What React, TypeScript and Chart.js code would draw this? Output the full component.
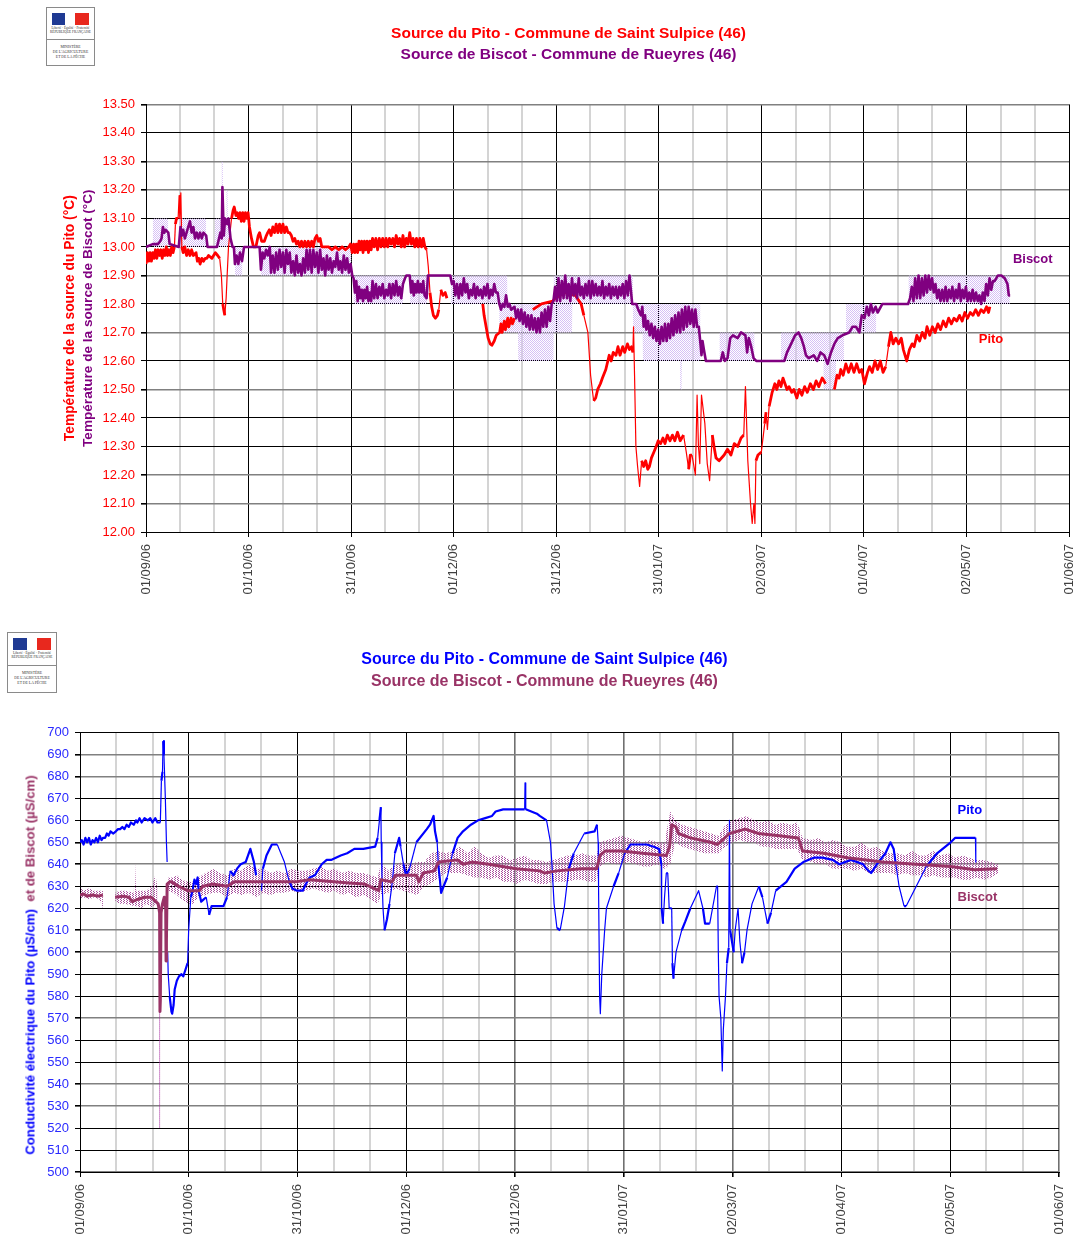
import React, { useEffect, useRef } from "react";
import { Chart, registerables } from "chart.js";
Chart.register(...registerables);

type P = [number, number];
type B = [number, number | null, number | null];

const xTickLabels = ["01/09/06", "01/10/06", "31/10/06", "01/12/06", "31/12/06", "31/01/07", "02/03/07", "01/04/07", "02/05/07", "01/06/07"];

const titlePito1 = "Source du Pito - Commune de Saint Sulpice (46)";
const titleBiscot1 = "Source de Biscot - Commune de Rueyres (46)";
const yTitlePito1 = "Température de la source du Pito (°C)";
const yTitleBiscot1 = "Température de la source de Biscot (°C)";
const yTitlePito2 = "Conductivité électrique du Pito (µS/cm)";
const yTitleBiscot2 = "et de Biscot (µS/cm)";

// Temperature, Pito: [day since 01/09/06, °C]
const pitoTemp: P[] = [
  [0, 12.94], [.4, 12.98], [.8, 12.95], [1.2, 12.98], [1.6, 12.95], [2, 12.98], [2.4, 12.96], [2.8, 12.99], [3.2, 12.96], [3.6, 12.99], [4, 12.97], [4.4, 12.99], [4.8, 12.96], [5.2, 12.99], [5.6, 12.97], [6, 13], [6.4, 12.97], [6.8, 12.99], [7.2, 12.97], [7.6, 13], [8, 12.98], [8.4, 13],
  [8.7, 13.08], [9, 13.1], [9.5, 13.1], [9.8, 13.18], [10, 13.1], [10.3, 13.19], [10.6, 13], [11, 12.98], [11.5, 13], [12, 12.97], [12.5, 12.99], [13, 12.97], [13.5, 12.99], [14, 12.97], [14.8, 12.98], [15.2, 12.95], [15.6, 12.96], [16, 12.94], [16.5, 12.96], [17, 12.95], [17.5, 12.96], [18, 12.96], [18.5, 12.97], [19.5, 12.96], [20.5, 12.98], [21.2, 12.97],
  [21.8, 12.96], [22.3, 12.9], [22.7, 12.8], [23.3, 12.76], [23.7, 12.82], [24, 12.9], [24.4, 13], [25.3, 13.1], [25.8, 13.13], [26.1, 13.14], [26.6, 13.11], [27, 13.12], [27.4, 13.1], [27.8, 13.12], [28.2, 13.09], [28.6, 13.12], [29, 13.09], [29.4, 13.12], [29.8, 13.1], [30.2, 13.12], [30.6, 13.07], [31.2, 13.03], [31.8, 13], [32.5, 13], [33.2, 13.04], [33.6, 13.05], [34.2, 13.02], [35, 13.02], [35.6, 13.04], [36, 13.05], [36.5, 13.06], [37, 13.04], [37.5, 13.07], [38, 13.05], [38.5, 13.08], [39, 13.05], [39.5, 13.08], [40, 13.05], [40.5, 13.08], [41, 13.05], [41.5, 13.07], [42, 13.05], [42.5, 13.05], [43, 13.04], [43.5, 13.02], [44, 13.03], [44.5, 13.01], [45, 13.02], [45.5, 13], [46, 13.02], [46.5, 13], [47, 13.02], [47.5, 13], [48, 13.02], [48.5, 13], [49, 13.02], [49.5, 13], [50, 13.03], [50.5, 13.04], [51, 13.02], [51.5, 13.03], [52, 13], [53, 13], [54, 13], [55, 12.99], [56, 13], [57, 12.99], [58, 13], [59, 12.99], [60, 13], [60.5, 13.01],
  [61, 12.98], [61.4, 13.01], [61.8, 12.98], [62.2, 13.01], [62.6, 12.98], [63, 13.02], [63.4, 12.99], [63.8, 13.02], [64.2, 12.98], [64.6, 13.02], [65, 12.99], [65.4, 13.02], [65.8, 12.98], [66.2, 13.02], [66.6, 12.99], [67, 13.03], [67.5, 13], [68, 13.03], [68.5, 12.99], [69, 13.03], [69.5, 13], [70, 13.03], [70.5, 13], [71, 13.03], [71.5, 13], [72, 13.03], [72.5, 13.01], [73, 13.03], [73.5, 13], [74, 13.04], [74.5, 13.01], [75, 13.03], [75.5, 13], [76, 13.04], [76.5, 13], [77, 13.03], [77.5, 13.01], [78, 13.05], [78.5, 13.01], [79, 13.03], [79.5, 13], [80, 13.03], [80.5, 13], [81, 13.03], [81.5, 13], [82, 13.03], [82.5, 13],
  [83, 12.99], [83.5, 12.93], [84, 12.84], [84.5, 12.79], [85, 12.76], [85.6, 12.75], [86.2, 12.76], [86.6, 12.78], [87.2, 12.85], [87.8, 12.83], [88.5, 12.84], [89, 12.82], [89.1, null as any], [99.4, null as any], [99.6, 12.8], [100, 12.76], [100.6, 12.72], [101.2, 12.68], [101.8, 12.66], [102.3, 12.655], [103, 12.67], [103.6, 12.69], [104.6, 12.7], [105, 12.73], [105.3, 12.7], [106, 12.74], [106.3, 12.71], [107, 12.75], [107.3, 12.72], [108, 12.75], [108.4, 12.73], [109, 12.75], [109.1, null as any], [114.3, null as any], [114.4, 12.78], [117, 12.8], [120.3, 12.81], [121, 12.82], [124, 12.84], [127, 12.83],
  [128.7, 12.8], [129.5, 12.76], [130.7, 12.7], [131.5, 12.55], [132.4, 12.46], [133, 12.47], [133.6, 12.5], [134.4, 12.52], [135, 12.54], [136, 12.57], [137, 12.62], [137.6, 12.6], [138.2, 12.63], [139, 12.62], [139.6, 12.65], [140.2, 12.62], [141, 12.65], [141.6, 12.63], [142.4, 12.66], [143, 12.64], [143.6, 12.65], [144, 12.63], [144.2, 12.72], [144.5, 12.55], [144.9, 12.3], [145.4, 12.23], [146, 12.16], [146.6, 12.25], [147.2, 12.23], [147.8, 12.25], [148.4, 12.22], [148.9, 12.23], [149.5, 12.26], [150.2, 12.28], [150.9, 12.3], [151.5, 12.32], [152.2, 12.31], [152.9, 12.33], [153.5, 12.31], [154.2, 12.34], [155, 12.32], [155.7, 12.34], [156.4, 12.32], [157.2, 12.35], [158, 12.32], [159, 12.34], [159.8, 12.28], [160.5, 12.22], [161, 12.27], [161.5, 12.27], [162.5, 12.2], [163, 12.48], [163.4, 12.3], [163.8, 12.24], [164.3, 12.48], [165.3, 12.38], [166, 12.24], [166.7, 12.18], [167.5, 12.34], [168, 12.3], [168.6, 12.26], [169.5, 12.25], [171, 12.27], [172, 12.29], [173, 12.27], [174, 12.31], [175, 12.3], [176, 12.33], [176.8, 12.34], [177.3, 12.51], [178, 12.25], [178.8, 12.1], [179.3, 12.03], [179.8, 12.1], [180.1, 12.03], [180.4, 12.25], [181, 12.27], [182, 12.28], [183, 12.38], [183.4, 12.42], [183.8, 12.36], [184.3, 12.44], [185.2, 12.49], [186, 12.52], [186.6, 12.5], [187.2, 12.53], [187.8, 12.51], [188.4, 12.54], [189, 12.52], [189.6, 12.5], [190.2, 12.51], [191, 12.49], [191.6, 12.5], [192.5, 12.47], [193.2, 12.5], [194, 12.48], [194.8, 12.51], [195.6, 12.49], [196.5, 12.52], [197.4, 12.5], [198.2, 12.53], [199, 12.51], [200, 12.54], [201, 12.52], [201.1, null as any], [203, null as any], [203.6, 12.5], [204.4, 12.55], [205, 12.54], [205.5, 12.57], [206.2, 12.55], [207, 12.59], [207.8, 12.56], [208.6, 12.59], [209.4, 12.56], [210.2, 12.59], [211, 12.56], [211.7, 12.57], [212.5, 12.52], [213.4, 12.56], [214, 12.58], [214.8, 12.56], [215.6, 12.6], [216.4, 12.57], [217.2, 12.6], [218, 12.56], [218.8, 12.58], [219.6, 12.65], [220.3, 12.7], [221, 12.66], [221.8, 12.68], [222.6, 12.66], [223.4, 12.68], [224, 12.64], [225, 12.6], [225.8, 12.64], [226.6, 12.66], [227.2, 12.65], [228, 12.69], [228.8, 12.67], [229.6, 12.7], [230.4, 12.68], [231, 12.72], [231.8, 12.69], [232.6, 12.72], [233.4, 12.7], [234.2, 12.73], [235, 12.71], [235.8, 12.74], [236.6, 12.72], [237.4, 12.75], [238.2, 12.73], [239, 12.75], [239.8, 12.74], [240.6, 12.76], [241.4, 12.74], [242.2, 12.77], [243, 12.75], [243.8, 12.77], [244.6, 12.76], [245.4, 12.78], [246.2, 12.76], [247, 12.78], [247.8, 12.77], [248.6, 12.79], [249.2, 12.77], [249.6, 12.79],
];

// Temperature, Biscot, smoothed line
const biscotTemp: P[] = [
  [0, 13], [2, 13.01], [3.5, 13.01], [4.2, 13.02], [4.6, 13.03], [5, 13.07], [5.4, 13.05], [5.8, 13.06], [6.6, 13.05], [7, 13.01], [9.7, 13], [10.2, 13.07], [10.6, 13.04], [11, 13.06], [11.5, 13.03], [12, 13.05], [12.5, 13.07], [13, 13.09], [13.5, 13.05], [14, 13.07], [14.5, 13.03], [15, 13.05], [15.5, 13.03], [16, 13.05], [16.5, 13.03], [17, 13.05], [17.8, 13.04], [18.2, 13], [21, 13], [21.6, 13.03], [22, 13.05], [22.4, 13.03], [22.6, 13.21], [23, 13.04], [23.4, 13.1], [24, 13.08], [24.4, 13.1], [25, 13.03], [25.6, 13], [26, 13], [26.3, 12.94], [26.8, 12.97], [27.3, 12.94], [27.8, 12.98], [28.4, 12.95], [29, 13], [33.6, 13],
  [34, 12.92], [34.5, 12.98], [35, 12.96], [35.5, 12.99], [36, 12.97], [36.6, 13], [37, 12.91], [37.5, 12.97], [38, 12.91], [38.5, 12.98], [39, 12.92], [39.5, 12.99], [40, 12.93], [40.5, 12.98], [41, 12.91], [41.5, 12.99], [42, 12.94], [42.5, 12.98], [43, 12.91], [43.5, 12.95], [44, 12.9], [44.5, 12.97], [45, 12.91], [45.5, 12.94], [46, 12.9], [46.5, 12.96], [47, 12.91], [47.5, 12.99], [48, 12.92], [48.5, 12.99], [49, 12.91], [49.5, 12.99], [50, 12.93], [50.5, 12.98], [51, 12.91], [51.5, 12.99], [52, 12.92], [52.5, 12.96], [53, 12.9], [53.5, 12.97], [54, 12.92], [54.5, 12.96], [55, 12.91], [55.5, 12.95], [56, 12.93], [56.5, 12.98], [57, 12.92], [57.5, 12.95], [58, 12.91], [58.5, 12.97], [59, 12.92], [59.5, 12.96], [60, 12.91], [60.5, 12.94], [61, 12.9], [61.4, 12.89], [61.8, 12.84], [62.2, 12.88], [62.6, 12.81], [63, 12.86], [63.4, 12.82], [63.8, 12.85], [64.2, 12.81], [64.6, 12.85], [65, 12.82], [65.4, 12.86], [65.8, 12.81], [66.2, 12.84], [66.6, 12.81], [67, 12.88], [67.5, 12.82], [68, 12.87], [68.5, 12.82], [69, 12.86], [69.5, 12.83], [70, 12.87], [70.5, 12.82], [71, 12.85], [71.5, 12.83], [72, 12.87], [72.5, 12.82], [73, 12.87], [73.5, 12.83], [74, 12.88], [74.5, 12.83], [75, 12.86], [75.5, 12.82], [76, 12.87], [76.6, 12.89], [77, 12.9], [78, 12.9], [78.4, 12.84], [78.8, 12.88], [79.2, 12.83], [79.6, 12.87], [80, 12.84], [80.4, 12.88], [80.8, 12.84], [81.2, 12.87], [81.6, 12.84], [82, 12.88], [82.4, 12.83], [83, 12.82], [83.4, 12.9], [90, 12.9], [90.5, 12.87], [91, 12.88], [91.5, 12.83], [92, 12.87], [92.5, 12.82], [93, 12.87], [93.5, 12.83], [94, 12.89], [94.5, 12.84], [95, 12.87], [95.5, 12.82], [96, 12.85], [96.5, 12.83], [97, 12.87], [97.5, 12.82], [98, 12.86], [98.5, 12.83], [99, 12.85], [99.5, 12.82], [100, 12.86], [100.5, 12.83], [101, 12.87], [101.5, 12.82], [102, 12.85], [102.5, 12.83], [103, 12.87], [103.5, 12.84], [104, 12.84], [104.5, 12.8], [105, 12.78], [105.5, 12.8], [106, 12.79], [106.5, 12.83], [107, 12.79], [107.5, 12.8], [108, 12.78], [109, 12.79], [109.5, 12.75], [110, 12.78], [110.5, 12.74], [111, 12.78], [111.5, 12.73], [112, 12.77], [112.5, 12.72], [113, 12.76], [113.5, 12.71], [114, 12.76], [114.5, 12.71], [115, 12.75], [115.5, 12.7], [116, 12.75], [116.5, 12.7], [117, 12.77], [117.5, 12.72], [118, 12.78], [118.5, 12.72], [119, 12.79], [119.5, 12.74], [120, 12.8], [120.5, 12.81],
  [121, 12.86], [121.5, 12.81], [122, 12.89], [122.5, 12.81], [123, 12.88], [123.5, 12.82], [124, 12.9], [124.5, 12.82], [125, 12.87], [125.5, 12.81], [126, 12.89], [126.5, 12.83], [127, 12.87], [127.5, 12.82], [128, 12.89], [128.5, 12.83], [129, 12.86], [129.5, 12.82], [130, 12.87], [130.5, 12.83], [131, 12.88], [131.5, 12.82], [132, 12.88], [132.5, 12.83], [133, 12.87], [133.5, 12.83], [134, 12.86], [134.5, 12.83], [135, 12.88], [135.5, 12.82], [136, 12.86], [136.5, 12.83], [137, 12.87], [137.5, 12.82], [138, 12.86], [138.5, 12.83], [139, 12.86], [139.5, 12.82], [140, 12.86], [140.5, 12.83], [141, 12.87], [141.5, 12.82], [142, 12.88], [142.5, 12.83], [143, 12.9], [143.4, 12.85], [143.8, 12.8], [145, 12.8], [145.6, 12.78], [146.4, 12.76], [146.8, 12.79], [147.2, 12.72], [147.6, 12.76], [148, 12.71], [148.5, 12.74], [149, 12.69], [149.5, 12.73], [150, 12.68], [150.5, 12.72], [151, 12.67], [151.5, 12.71], [152, 12.66], [152.5, 12.72], [153, 12.67], [153.5, 12.73], [154, 12.67], [154.5, 12.73], [155, 12.68], [155.5, 12.75], [156, 12.69], [156.5, 12.76], [157, 12.7], [157.5, 12.77], [158, 12.7], [158.5, 12.78], [159, 12.71], [159.5, 12.79], [160, 12.72], [160.5, 12.79], [161, 12.73], [161.5, 12.78], [162, 12.72], [162.5, 12.78], [163, 12.72], [163.5, 12.72], [164, 12.66], [164.3, 12.62], [164.6, 12.67], [165, 12.64], [165.6, 12.6], [170, 12.6], [170.6, 12.63], [171.2, 12.6], [172, 12.61], [172.8, 12.68], [173.6, 12.69], [175, 12.68], [176, 12.7], [177.3, 12.69], [177.8, 12.63], [178.3, 12.68], [179, 12.65], [179.7, 12.61], [180.5, 12.6], [188.8, 12.6], [189.6, 12.63], [190.8, 12.66], [192, 12.69], [193, 12.7], [193.8, 12.68], [194.6, 12.65], [195.2, 12.62], [196, 12.61], [197.5, 12.62], [198.5, 12.6], [199.5, 12.63], [200.6, 12.62], [201.6, 12.59], [202.6, 12.63], [203.6, 12.66], [204.6, 12.68], [206, 12.69], [208, 12.7], [209, 12.72], [210, 12.72], [211, 12.7], [211.7, 12.76], [212.5, 12.75], [213.2, 12.79], [213.8, 12.76], [214.4, 12.8], [215, 12.77], [215.8, 12.79], [216.4, 12.77], [217.8, 12.8], [225.4, 12.8],
  [226, 12.82], [226.5, 12.86], [227, 12.81], [227.5, 12.89], [228, 12.82], [228.5, 12.9], [229, 12.82], [229.5, 12.89], [230, 12.83], [230.5, 12.9], [231, 12.84], [231.5, 12.9], [232, 12.85], [232.5, 12.89], [233, 12.84], [233.5, 12.87], [234, 12.82], [234.5, 12.85], [235, 12.81], [235.5, 12.85], [236, 12.81], [236.5, 12.86], [237, 12.81], [237.5, 12.85], [238, 12.82], [238.5, 12.86], [239, 12.81], [239.5, 12.85], [240, 12.82], [240.5, 12.87], [241, 12.81], [241.5, 12.85], [242, 12.82], [242.5, 12.86], [243, 12.81], [243.5, 12.84], [244, 12.81], [244.5, 12.85], [245, 12.81], [245.5, 12.84], [246, 12.81], [246.5, 12.83], [247, 12.8], [247.5, 12.84], [248, 12.81], [248.5, 12.87], [249, 12.83], [249.5, 12.89], [250, 12.85], [250.5, 12.88], [251, 12.88], [252, 12.9], [253, 12.9], [254, 12.89], [254.8, 12.87], [255.2, 12.83], [255.6, 12.83],
];

// Temperature, Biscot, raw readings: [day, low, high] (they jump by the 0.1 °C step of the probe)
const biscotTempRaw: B[] = [
  [2, 13, 13.1], [6.6, 13, 13.1], [6.7, null, null], [9.6, null, null], [9.7, 13, 13.1], [17.8, 13, 13.1], [17.9, null, null], [20.2, null, null], [20.3, 13, 13.1], [22.3, 13, 13.1], [22.4, 13, 13.3], [22.7, 13, 13.3], [22.8, 13, 13.1], [23.7, 13, 13.1], [23.8, 13, 13.2], [24.1, 13, 13.2], [24.2, 13, 13.1], [25, 13, 13.1], [25.1, null, null], [26.2, null, null], [26.3, 12.9, 13], [28.5, 12.9, 13], [28.6, null, null], [33.8, null, null], [33.9, 12.9, 13], [60.8, 12.9, 13], [60.9, null, null], [61.3, null, null], [61.4, 12.8, 12.9], [76, 12.8, 12.9], [76.1, null, null], [78, null, null], [78.1, 12.8, 12.9], [83.2, 12.8, 12.9], [83.3, null, null], [90, null, null], [90.1, 12.8, 12.9], [104.5, 12.8, 12.9], [104.6, 12.7, 12.9], [106.8, 12.7, 12.9], [106.9, 12.7, 12.8], [110, 12.7, 12.8], [110.1, 12.6, 12.8], [120.5, 12.6, 12.8], [120.6, 12.7, 12.9], [126, 12.7, 12.9], [126.1, 12.8, 12.9], [144, 12.8, 12.9], [144.1, 12.7, 12.8], [146.9, 12.7, 12.8], [147, 12.6, 12.8], [158, 12.6, 12.8], [158.1, 12.5, 12.8], [158.4, 12.5, 12.8], [158.5, 12.6, 12.8], [164, 12.6, 12.8], [164.1, null, null], [169.5, null, null], [169.6, 12.6, 12.7], [180, 12.6, 12.7], [180.1, null, null], [187.7, null, null], [187.8, 12.6, 12.7], [200.4, 12.6, 12.7], [200.5, 12.5, 12.7], [204, 12.5, 12.7], [204.1, 12.6, 12.7], [206.5, 12.6, 12.7], [206.6, null, null], [206.9, null, null], [207, 12.7, 12.8], [216, 12.7, 12.8], [216.1, null, null], [225.4, null, null], [225.5, 12.8, 12.9], [255.5, 12.8, 12.9],
];

// Conductivity, Pito: [day, µS/cm]
const pitoCond: P[] = [
  [0, 650], [.5, 651], [1, 649], [1.5, 652], [2, 650], [2.5, 652], [3, 649], [3.5, 651], [4, 650], [4.5, 652], [5, 650], [5.5, 653], [6, 651], [6.4, 652], [7, 652], [7.5, 654], [8, 653], [8.5, 655], [9.3, 654], [10, 655], [10.6, 656], [11.2, 656], [11.8, 657], [12.4, 656], [13, 658], [13.6, 657], [14.2, 659], [15, 658], [15.6, 660], [16, 659], [16.6, 661], [17.2, 659], [18, 661], [18.9, 660], [19.6, 661], [20.2, 659], [21, 661], [21.6, 659], [22.4, 659], [22.7, 678], [23, 682], [23.2, 696], [23.4, 690], [23.6, 680], [23.8, 670], [24.1, 650], [24.3, 641], [24.31, null as any], [24.4, null as any], [24.45, 600], [24.6, 590], [25, 580], [25.5, 573], [25.7, 572], [26.1, 576], [26.4, 583], [27, 587], [27.6, 589], [28.3, 590], [28.8, 589], [29.2, 591], [30, 595], [30.3, 610], [30.9, 625], [31.4, 628], [31.9, 633], [32.4, 631], [32.8, 634], [33.1, 628], [33.8, 623], [34.5, 624], [35.2, 625], [36, 617], [36.7, 621], [38, 621], [40, 621], [41, 625], [41.9, 637], [42.8, 635], [43.8, 638], [44.8, 640], [46.2, 641], [47.5, 647], [48.5, 641], [49.1, 635], [49.6, null as any], [50.2, null as any], [50.6, 628], [51, 638], [52, 644], [53.5, 649], [55, 649], [57, 641], [58.2, 633], [59.2, 629], [60.5, 628], [62.1, 628], [63, 631], [64, 634], [65.5, 635], [67.4, 640], [68.8, 642], [70, 642], [72.7, 644], [74.5, 645], [76.5, 647], [79, 647], [82.3, 648], [83, 652], [83.5, 660], [83.9, 666], [84, 650], [84.2, 635], [84.5, 620], [84.9, 610], [85.6, 615], [86.3, 622], [87.1, 632], [87.8, 645], [89, 652], [89.4, 648], [90.2, 640], [90.9, 635], [91.9, 638], [93.8, 650], [96.7, 656], [97.6, 658], [98.6, 662], [99, 655], [99.6, 650], [99.9, 640], [100.3, 634], [100.7, 627], [101.4, 630], [102.4, 634], [103.9, 645], [105.3, 652], [106.8, 655], [109, 658], [111, 660], [113, 661], [114.9, 662], [115.9, 664], [118, 665], [121.6, 665], [124, 665], [124.1, 677], [124.3, 665], [127.4, 663], [128.2, 662], [130.1, 660], [131.2, 650], [131.6, 640], [132.2, 622], [133, 611], [133.9, 610], [135.1, 621], [136.3, 638], [137.7, 645], [140.6, 654], [143.5, 655], [144.2, 658], [144.5, 650], [144.6, 630], [144.9, 580], [145.1, 572], [145.5, 590], [146.3, 610], [146.8, 620], [148.8, 630], [150.2, 636], [151.9, 645], [153.5, 649], [158, 649], [160, 648], [161.5, 647], [162.1, 640], [162.2, 620], [162.6, 613], [163, 625], [163.5, 636], [163.9, 636], [164.3, 620], [165, 620], [165.2, 595], [165.5, 588], [166.2, 600], [167.8, 610], [168.8, 614], [170.2, 620], [172.5, 628], [173.7, 620], [174.3, 613], [175.6, 613], [177.5, 630], [177.8, 630], [178, 600], [178.2, 580], [178.7, 570], [179.1, 546], [179.4, 565], [180, 580], [180.4, 595], [180.9, 602], [181.1, 660], [181.3, 610], [181.8, 605], [182.3, 600], [182.7, 610], [183.5, 620], [184, 605], [184.6, 595], [185.3, 600], [186, 610], [187.4, 622], [189.3, 630], [190.3, 625], [191.7, 613], [192.7, 618], [194, 628], [197, 632], [199.3, 638], [201.7, 641], [204.6, 643], [207, 643], [209.9, 642], [211.7, 640], [215, 642], [218.4, 640], [219.3, 638], [220.6, 636], [222.2, 640], [224.6, 645], [226, 650], [226.9, 647], [227.5, 640], [228.4, 630], [229.8, 621], [230.4, 621], [233.2, 630], [236, 639], [239, 645], [242.8, 650], [244, 652], [246.6, 652], [249.7, 652], [249.8, 641],
];

// Conductivity, Biscot, smoothed line
const biscotCond: P[] = [
  [0, 626], [1, 626.5], [2, 625.5], [3.5, 626], [5, 625.5], [6.4, 626], [6.5, null as any], [9.7, null as any], [9.8, 625], [12, 625.5], [13.6, 625], [14.6, 623], [16, 624], [18, 625], [19.9, 625], [21.8, 622], [22.2, 618], [22.3, 573], [22.4, 578], [22.6, 618], [23, 622], [23.5, 625], [23.9, 620], [24, 596], [24.1, 605], [24.3, 631], [25, 632], [25.5, 632], [27.5, 630], [30, 628], [33.3, 628], [34.3, 630], [37, 631], [41, 630], [43, 632], [47, 632], [50.6, 632], [54.5, 632], [60, 632], [64, 633], [70.8, 632], [75, 631.5], [79.4, 631], [83.3, 628], [83.9, 633], [87, 632], [88, 635], [93.8, 635], [94.5, 632], [95.7, 636], [98.8, 637], [100, 641], [105.3, 642], [106.8, 640], [109.2, 641], [114, 640], [121.6, 638], [128.2, 637], [129.6, 636], [133, 637], [139.7, 638], [144.1, 638], [145, 644], [146.4, 646], [151, 646], [156.8, 645], [163.5, 644], [164.4, 648], [165, 658], [166.2, 657], [166.9, 654], [170.2, 652], [175.9, 650], [177.8, 649], [181.1, 654], [185.5, 656], [189.2, 654], [195, 653], [200.3, 652], [201.5, 646], [207.4, 645], [214, 643], [223.8, 641], [233.2, 640], [242.8, 639], [249.5, 637.5], [255.7, 638],
];

// Conductivity, Biscot, raw readings: [day, low, high]
const biscotCondRaw: B[] = [
  [0, 624, 630], [1, 625, 628], [2.5, 624, 629], [4, 625, 628], [5.5, 624, 628], [6.4, 620, 628], [6.5, null, null], [9.7, null, null], [9.8, 623, 627], [11, 622, 628], [12.5, 622, 628], [15, 621, 627], [15.3, 621, 643], [15.6, 621, 628], [17, 620, 628], [18.5, 622, 628], [20, 620, 630], [21, 622, 635], [21.6, 621, 630], [21.8, null, null], [24.5, null, null], [24.6, 628, 634], [26, 627, 634], [27, 626, 635], [28.5, 624, 633], [30, 622, 632], [31.5, 622, 632], [33, 625, 634], [35, 626, 636], [37, 627, 638], [39, 627, 636], [41, 625, 635], [43, 627, 638], [45, 626, 637], [47, 627, 640], [49, 625, 638], [51, 627, 638], [53, 626, 636], [55, 627, 637], [57, 627, 636], [59, 628, 638], [61, 627, 637], [63, 628, 637], [65, 629, 638], [67, 628, 639], [69, 627, 637], [71, 628, 638], [73, 626, 636], [75, 627, 637], [77, 625, 636], [79, 626, 636], [81, 624, 635], [83, 622, 634], [84, 626, 641], [86, 627, 637], [88, 629, 640], [90, 628, 641], [92, 627, 640], [94, 626, 641], [96, 630, 641], [98, 631, 645], [100, 634, 646], [102, 636, 645], [104, 636, 646], [106, 636, 648], [108, 635, 645], [110, 634, 648], [112, 634, 645], [114, 633, 643], [116, 634, 644], [118, 632, 644], [120, 632, 642], [122, 631, 643], [124, 633, 644], [126, 632, 642], [128, 631, 642], [130, 631, 641], [132, 632, 642], [134, 632, 643], [136, 632, 644], [138, 633, 644], [140, 633, 645], [142, 632, 644], [144, 632, 644], [145, 639, 650], [147, 641, 651], [149, 640, 652], [151, 640, 653], [153, 641, 652], [155, 640, 651], [157, 639, 650], [159, 639, 651], [161, 640, 650], [163, 638, 650], [164.6, 640, 664], [166, 650, 660], [168, 648, 658], [170, 647, 657], [172, 646, 656], [174, 645, 655], [176, 645, 654], [178, 645, 653], [180, 648, 658], [182, 650, 660], [184, 651, 661], [186, 650, 662], [188, 650, 660], [190, 648, 659], [192, 648, 660], [194, 647, 658], [196, 647, 659], [198, 647, 658], [200, 647, 659], [201.5, 642, 652], [204, 641, 651], [206, 640, 652], [208, 640, 650], [210, 638, 651], [212, 638, 650], [214, 638, 648], [216, 637, 648], [218, 638, 650], [220, 636, 647], [222, 636, 648], [224, 636, 646], [226, 636, 645], [228, 635, 645], [230, 636, 644], [232, 635, 646], [234, 635, 644], [236, 634, 644], [238, 635, 646], [240, 634, 644], [242, 634, 645], [244, 634, 643], [246, 633, 644], [248, 633, 643], [250, 634, 642], [252, 633, 642], [254, 634, 641], [256, 636, 640],
];

const biscotCondDrop: P[] = [[22.2, 573], [22.2, 520]];

const annotations1 = [
  { text: "Biscot", x: 256.4, y: 12.955, color: "#800080" },
  { text: "Pito", x: 246.3, y: 12.675, color: "#ff0000" },
];
const annotations2 = [
  { text: "Pito", x: 244.7, y: 664.7, color: "#0000ff" },
  { text: "Biscot", x: 244.7, y: 625, color: "#993366" },
];

const FONT = "'Liberation Sans', Arial, sans-serif";
const GREY = "#808080";
const BLACK = "#000000";
const LIGHT = "#d4d4d4";

const hGrid1 = [1, 0, 0, 1, 1, 0, 1, 0, 1, 0, 1, 1, 0, 0, 1, 0].map(Boolean);
const hGrid2 = [0, 1, 1, 0, 0, 1, 1, 0, 1, 1, 0, 0, 1, 1, 0, 0, 1, 1, 0, 0, 1].map(Boolean);
const vMajorGrey2 = [false, false, false, false, true, true, true, false, false, true];

function dotPattern(color: string, w: number, h: number, dots: number[][]) {
  const c = document.createElement("canvas");
  c.width = w;
  c.height = h;
  const g = c.getContext("2d")!;
  g.fillStyle = color;
  dots.forEach(([x, y]) => g.fillRect(x, y, 1, 1));
  return g.createPattern(c, "repeat")!;
}

const pts = (a: P[]) => a.map(([x, y]) => ({ x, y }));

// Long, steep runs are drawn thin, the dense noisy runs stay heavy.
const thinSteep = (wide: number) => ({
  borderWidth: (c: any) => (Math.abs(c.p1.y - c.p0.y) > 16 ? 1.2 : wide),
});

const labelsPlugin = (items: { text: string; x: number; y: number; color: string }[]) => ({
  id: "seriesLabels",
  afterDatasetsDraw(chart: any) {
    const { ctx, scales } = chart;
    ctx.save();
    ctx.font = `bold 13px ${FONT}`;
    ctx.textAlign = "left";
    ctx.textBaseline = "middle";
    items.forEach((it) => {
      ctx.fillStyle = it.color;
      ctx.fillText(it.text, scales.x.getPixelForValue(it.x), scales.y.getPixelForValue(it.y));
    });
    ctx.restore();
  },
});

function xScale(majorGrey: boolean[], height: number, labelColor: string) {
  return {
    type: "linear",
    min: 0,
    max: 273,
    afterBuildTicks(s: any) {
      const t = [];
      for (let i = 0; i <= 27; i++) t.push({ value: (i * 273) / 27 });
      s.ticks = t;
    },
    afterFit(s: any) {
      s.height = height;
      s.paddingLeft = 0;
      s.paddingRight = 0;
    },
    border: { color: BLACK },
    grid: {
      color: (c: any) => (c.index % 3 === 0 ? (majorGrey[c.index / 3] ? "#707070" : BLACK) : LIGHT),
      lineWidth: (c: any) => (c.index % 3 === 0 ? (majorGrey[c.index / 3] ? 1.6 : 1) : 2),
      tickColor: (c: any) => (c.index % 3 === 0 ? BLACK : "rgba(0,0,0,0)"),
      tickLength: 5,
    },
    ticks: {
      autoSkip: false,
      minRotation: 90,
      maxRotation: 90,
      padding: 7,
      color: labelColor,
      font: { family: FONT, size: 13 },
      callback: (_: any, i: number) => (i % 3 === 0 ? xTickLabels[i / 3] : ""),
    },
  };
}

function hGridOpts(dark: boolean[]) {
  return {
    color: (c: any) => (dark[c.index] ? BLACK : GREY),
    lineWidth: (c: any) => (dark[c.index] ? 1 : 1.6),
    tickColor: BLACK,
    tickLength: 5,
  };
}

function rawBand(a: B[], pattern: any) {
  const mk = (i: 1 | 2) => a.map((r) => ({ x: r[0], y: r[i] }));
  return [
    { data: mk(2), borderWidth: 0, pointRadius: 0, fill: "+1", backgroundColor: pattern, order: 5 },
    { data: mk(1), borderWidth: 0, pointRadius: 0, fill: false, order: 6 },
  ];
}

const titleBlock = (text: string, color: string, top: number, bottom: number, size: number) => ({
  display: true,
  text,
  color,
  font: { family: FONT, size, weight: "bold" as const, lineHeight: 18 / size },
  padding: { top, bottom },
});

function Logo({ left, top, w, h, div }: { left: number; top: number; w: number; h: number; div: number }) {
  return (
    <div style={{ position: "absolute", left, top, width: w, height: h, border: "1px solid #8a8a8a", background: "#fff", boxSizing: "border-box", fontFamily: "'Liberation Serif', serif", overflow: "hidden", textAlign: "center", zIndex: 2 }}>
      <div style={{ position: "absolute", left: 5, right: 5, top: 5, height: 12, background: "linear-gradient(90deg,#1f3a93 0 36%,#ffffff 36% 62%,#e8281e 62% 100%)" }} />
      <div style={{ position: "absolute", left: 2, right: 2, top: 18, fontSize: 3.4, lineHeight: "4px", color: "#333" }}>
        Liberté · Égalité · Fraternité<br />RÉPUBLIQUE FRANÇAISE
      </div>
      <div style={{ position: "absolute", left: 0, right: 0, top: div, borderTop: "1px solid #8a8a8a" }} />
      <div style={{ position: "absolute", left: 0, right: 0, top: div + 6, fontSize: 3.8, lineHeight: "5px", color: "#333" }}>
        MINISTÈRE<br />DE L'AGRICULTURE<br />ET DE LA PÊCHE
      </div>
    </div>
  );
}

export default function App() {
  const ref1 = useRef<HTMLCanvasElement>(null);
  const ref2 = useRef<HTMLCanvasElement>(null);

  useEffect(() => {
    const lilac = dotPattern("#d6bff5", 2, 2, [[0, 0], [1, 1]]);
    const pinkDots = dotPattern("#a84f9c", 3, 2, [[0, 0], [1, 1]]);

    const c1 = new Chart(ref1.current!, {
      type: "line",
      data: {
        datasets: [
          { label: "Biscot", data: pts(biscotTemp), borderColor: "#800080", borderWidth: 2.6, borderJoinStyle: "round", pointRadius: 0, order: 1 },
          { label: "Pito", data: pts(pitoTemp), borderColor: "#ff0000", borderWidth: 2.8, borderJoinStyle: "round", pointRadius: 0, order: 2, segment: thinSteep(2.8) },
          ...rawBand(biscotTempRaw, lilac),
        ] as any,
      },
      options: {
        animation: false,
        responsive: false,
        layout: { padding: { left: 8, right: 8, top: 0, bottom: 0 } },
        plugins: {
          legend: { display: false },
          tooltip: { enabled: false },
          title: titleBlock(titlePito1, "#ff0000", 25, 3, 15.5),
          subtitle: titleBlock(titleBiscot1, "#800080", 0, 40.4, 15.5),
        },
        scales: {
          x: xScale([], 78, "#404040"),
          y: {
            min: 12,
            max: 13.5,
            weight: 0,
            afterFit(s: any) { s.width = 62; },
            afterBuildTicks(s: any) {
              const t = [];
              for (let i = 0; i <= 15; i++) t.push({ value: 12 + i / 10 });
              s.ticks = t;
            },
            border: { color: BLACK },
            grid: hGridOpts(hGrid1),
            ticks: { color: "#ff0000", padding: 6, font: { family: FONT, size: 13 }, callback: (v: any) => Number(v).toFixed(2) },
            title: { display: true, text: yTitleBiscot1, color: "#800080", font: { family: FONT, size: 13.6, weight: "bold" }, padding: { top: -4, bottom: 0 } },
          },
          y1: {
            position: "left",
            min: 12,
            max: 13.5,
            weight: 1,
            afterFit(s: any) { s.width = 16; },
            border: { display: false },
            grid: { display: false, drawTicks: false },
            ticks: { display: false },
            title: { display: true, text: yTitlePito1, color: "#ff0000", font: { family: FONT, size: 13.8, weight: "bold" }, padding: { top: -6, bottom: 0 } },
          },
        },
      } as any,
      plugins: [labelsPlugin(annotations1)],
    });

    const c2 = new Chart(ref2.current!, {
      type: "line",
      data: {
        datasets: [
          { label: "Biscot", data: pts(biscotCond), borderColor: "#993366", borderWidth: 3, borderJoinStyle: "round", pointRadius: 0, order: 1 },
          { label: "Pito", data: pts(pitoCond), borderColor: "#0000ff", borderWidth: 2.2, borderJoinStyle: "round", pointRadius: 0, order: 3, segment: thinSteep(2.2) },
          ...rawBand(biscotCondRaw, pinkDots),
          { label: "Biscot brut", data: pts(biscotCondDrop), borderColor: "#a0209a", borderWidth: 1, borderDash: [1, 1], pointRadius: 0, order: 4 },
        ] as any,
      },
      options: {
        animation: false,
        responsive: false,
        layout: { padding: { left: 18, right: 18, top: 0, bottom: 0 } },
        plugins: {
          legend: { display: false },
          tooltip: { enabled: false },
          title: titleBlock(titlePito1, "#0000ff", 26, 4, 16),
          subtitle: titleBlock(titleBiscot1, "#993366", 0, 41.4, 16),
        },
        scales: {
          x: xScale(vMajorGrey2, 67, "#404040"),
          y: {
            min: 500,
            max: 700,
            afterFit(s: any) { s.width = 50; },
            afterBuildTicks(s: any) {
              const t = [];
              for (let i = 0; i <= 20; i++) t.push({ value: 500 + i * 10 });
              s.ticks = t;
            },
            border: { color: BLACK },
            grid: hGridOpts(hGrid2),
            ticks: { color: "#2a2aff", padding: 6, font: { family: FONT, size: 13 } },
          },
        },
      } as any,
      plugins: [labelsPlugin(annotations2)],
    });

    return () => {
      c1.destroy();
      c2.destroy();
    };
  }, []);

  return (
    <div style={{ position: "absolute", left: 0, top: 0, width: 1078, height: 1239, overflow: "hidden", background: "#fff" }}>
      <canvas ref={ref1} width={1017} height={610} style={{ position: "absolute", left: 60, top: 0, width: 1017, height: 610 }} />
      <canvas ref={ref2} width={1065} height={614} style={{ position: "absolute", left: 12, top: 625, width: 1065, height: 614 }} />
      <Logo left={46} top={7} w={49} h={59} div={31} />
      <Logo left={7} top={632} w={50} h={61} div={32} />
      <div style={{ position: "absolute", left: 30, top: 965, width: 0, height: 0 }}>
        <div style={{ position: "absolute", transform: "translate(-50%,-50%) rotate(-90deg)", whiteSpace: "pre", font: `bold 13.2px ${FONT}` }}>
          <span style={{ color: "#0000ff" }}>{yTitlePito2}</span>
          <span style={{ color: "#993366" }}>{"  " + yTitleBiscot2}</span>
        </div>
      </div>
    </div>
  );
}
